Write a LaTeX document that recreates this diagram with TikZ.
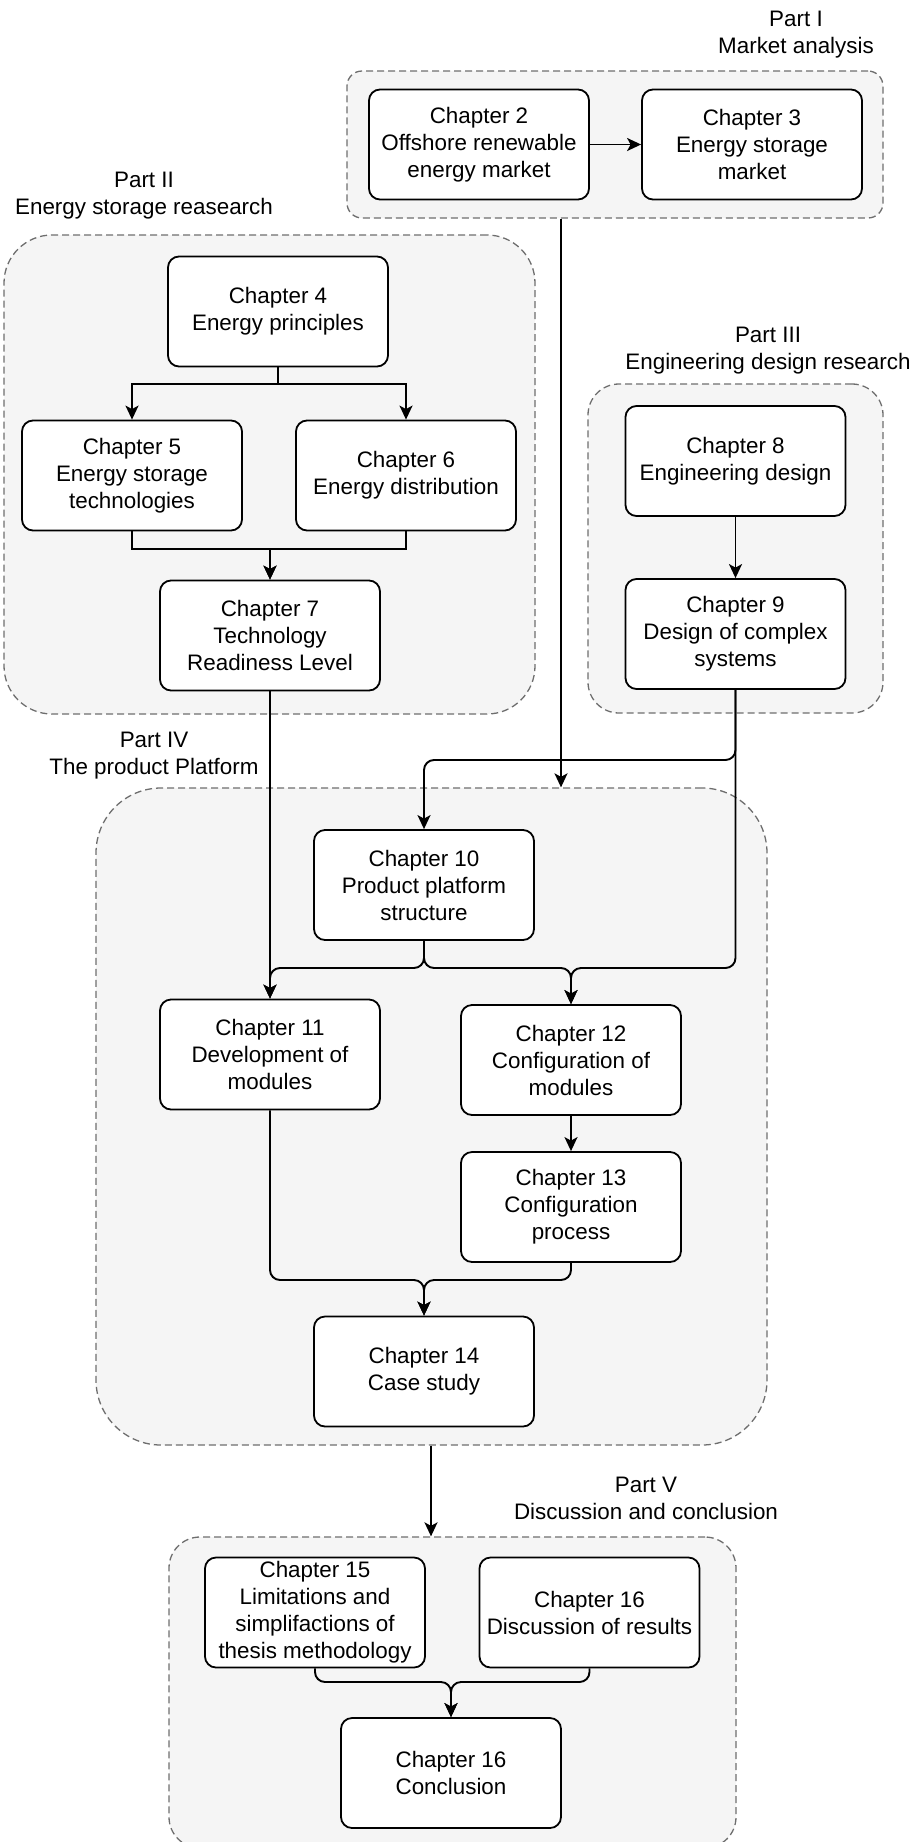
\documentclass[tikz,border=0pt]{standalone}
\usepackage{fontspec}
\setmainfont{Liberation Sans}
\usetikzlibrary{arrows.meta}

\definecolor{grpfill}{RGB}{245,245,245}
\definecolor{grpline}{RGB}{110,110,110}

\tikzset{
  grp/.style={draw=grpline, fill=grpfill, line width=1.3pt,
    dash pattern=on 7pt off 4pt, inner sep=0pt},
  chap/.style={draw=black, fill=white, line width=1.8pt, rounded corners=11pt,
    minimum width=220pt, minimum height=110pt, inner sep=0pt, align=center,
    font=\fontsize{22.4}{27}\selectfont},
  partlabel/.style={align=center, inner sep=0pt,
    font=\fontsize{22.4}{27}\selectfont},
  conn/.style={line width=1.9pt, draw=black,
    -{Stealth[length=14pt,width=13pt,inset=3.5pt]}},
  flow/.style={conn, rounded corners=10pt},
}

\begin{document}
\begin{tikzpicture}[x=1pt, y=-1pt]
\useasboundingbox (0,0) rectangle (920,1842);

% ---- part containers ----
\node[grp, rounded corners=15pt, minimum width=536pt, minimum height=147pt] (g1) at (615,144.5) {};
\node[grp, rounded corners=48pt, minimum width=531pt, minimum height=479pt] (g2) at (269.5,474.5) {};
\node[grp, rounded corners=31pt, minimum width=295pt, minimum height=329pt] (g3) at (735.5,548.5) {};
\node[grp, rounded corners=65pt, minimum width=671pt, minimum height=657pt] (g4) at (431.5,1116.5) {};
\node[grp, rounded corners=31pt, minimum width=567pt, minimum height=311pt] (g5) at (452.5,1692.5) {};

% ---- part titles ----
\node[partlabel] (t1) at (796,35) {Part I\\Market analysis};
\node[partlabel] (t2) at (144,195.5) {Part II\\Energy storage reasearch};
\node[partlabel] (t3) at (768,351) {Part III\\Engineering design research};
\node[partlabel] (t4) at (154,756) {Part IV\\The product Platform};
\node[partlabel] (t5) at (646,1498.5) {Part V\\Discussion and conclusion};

% ---- chapters ----
\node[chap] (c2)  at (479,144.5)  {Chapter 2\\Offshore renewable\\energy market};
\node[chap] (c3)  at (752,144.5)  {Chapter 3\\Energy storage\\market};
\node[chap] (c4)  at (278,311.5)  {Chapter 4\\Energy principles};
\node[chap] (c5)  at (132,475.5)  {Chapter 5\\Energy storage\\technologies};
\node[chap] (c6)  at (406,475.5)  {Chapter 6\\Energy distribution};
\node[chap] (c7)  at (270,635.5)  {Chapter 7\\Technology\\Readiness Level};
\node[chap] (c8)  at (735.5,461)  {Chapter 8\\Engineering design};
\node[chap] (c9)  at (735.5,634)  {Chapter 9\\Design of complex\\systems};
\node[chap] (c10) at (424,885)    {Chapter 10\\Product platform\\structure};
\node[chap] (c11) at (270,1054.5) {Chapter 11\\Development of\\modules};
\node[chap] (c12) at (571,1060)   {Chapter 12\\Configuration of\\modules};
\node[chap] (c13) at (571,1207)   {Chapter 13\\Configuration\\process};
\node[chap] (c14) at (424,1371.5) {Chapter 14\\Case study};
\node[chap] (c15) at (315,1612.5) {Chapter 15\\Limitations and\\simplifactions of\\thesis methodology};
\node[chap] (c16) at (589.5,1612.5) {Chapter 16\\Discussion of results};
\node[chap] (c17) at (451,1773)   {Chapter 16\\Conclusion};

% ---- routing helpers ----
\coordinate (ya) at (0,384);   % split below chapter 4
\coordinate (yb) at (0,549);   % merge above chapter 7
\coordinate (yc) at (0,760);   % chapter 9 to chapter 10
\coordinate (yd) at (0,968);   % split below chapter 10
\coordinate (ye) at (0,1280);  % merge above chapter 14
\coordinate (yf) at (0,1682);  % merge above final chapter
\coordinate (xa) at (561,0);   % Part I to Part IV
\coordinate (xb) at (431,0);   % Part IV to Part V

% ---- connectors ----
\draw[conn] (c2.east) -- (c3.west);
\draw[conn] (c4.south) -- (c4.south |- ya) -| (c5.north);
\draw[conn] (c4.south) -- (c4.south |- ya) -| (c6.north);
\draw[conn] (c5.south) -- (c5.south |- yb) -| (c7.north);
\draw[conn] (c6.south) -- (c6.south |- yb) -| (c7.north);
\draw[conn] (c8.south) -- (c9.north);
\draw[conn] (g1.south -| xa) -- (g4.north -| xa);
\draw[conn] (c7.south) -- (c11.north);
\draw[flow] (c9.south) -- (c9.south |- yc) -| (c10.north);
\draw[flow] (c9.south) -- (c9.south |- yd) -| (c12.north);
\draw[flow] (c10.south) -- (c10.south |- yd) -| (c11.north);
\draw[flow] (c10.south) -- (c10.south |- yd) -| (c12.north);
\draw[conn] (c12.south) -- (c13.north);
\draw[flow] (c11.south) -- (c11.south |- ye) -| (c14.north);
\draw[flow] (c13.south) -- (c13.south |- ye) -| (c14.north);
\draw[conn] (g4.south -| xb) -- (g5.north -| xb);
\draw[flow] (c15.south) -- (c15.south |- yf) -| (c17.north);
\draw[flow] (c16.south) -- (c16.south |- yf) -| (c17.north);

\end{tikzpicture}
\end{document}
